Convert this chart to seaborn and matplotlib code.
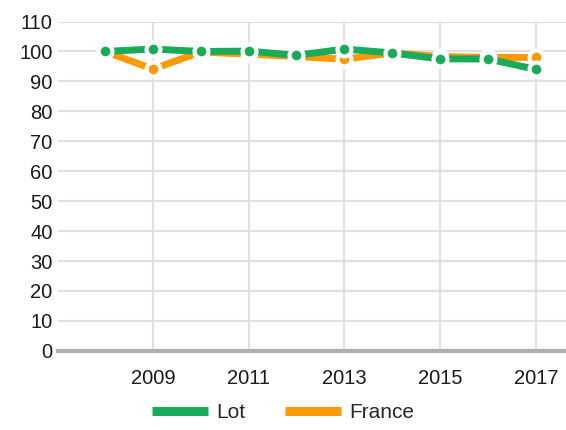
import numpy as np
import pandas as pd
import matplotlib.pyplot as plt
import seaborn as sns
from matplotlib.lines import Line2D

years = [2008, 2009, 2010, 2011, 2012, 2013, 2014, 2015, 2016, 2017]
lot = [100.0, 100.8, 100.0, 100.1, 98.7, 100.8, 99.5, 97.5, 97.5, 94.0]
france = [100.0, 94.1, 99.8, 99.1, 98.3, 97.4, 99.5, 98.3, 98.0, 98.0]

series_names = ["Lot", "France"]
colors = {"Lot": "#1aab5a", "France": "#ff9900"}

df = pd.DataFrame({
    "year": years * 2,
    "value": lot + france,
    "serie": ["Lot"] * len(years) + ["France"] * len(years),
})

sns.set_style("white")
plt.rcParams["font.family"] = ["Liberation Sans", "DejaVu Sans"]

fig = plt.figure(figsize=(5.66, 4.3), dpi=100)
ax = fig.add_axes([0.1025, 0.184, 0.8975, 0.766])

# France first so Lot sits on top
for name in ["France", "Lot"]:
    sns.lineplot(data=df[df.serie == name], x="year", y="value", color=colors[name],
                 linewidth=5, marker="o", markersize=10, markeredgecolor="white",
                 markeredgewidth=3, ax=ax, zorder=3, legend=False,
                 solid_capstyle="butt")

ax.set_xlim(2007.02, 2017.63)
ax.set_ylim(0, 110)
ax.set_yticks(np.arange(0, 111, 10))
ax.set_xticks([2009, 2011, 2013, 2015, 2017])
ax.grid(True, color="#e0e0e0", linewidth=1.5)
ax.set_axisbelow(True)
for s in ["top", "right", "left"]:
    ax.spines[s].set_visible(False)
ax.spines["bottom"].set_color("#b0b0b0")
ax.spines["bottom"].set_linewidth(3)
ax.set_xlabel("")
ax.set_ylabel("")
ax.tick_params(axis="both", length=0, labelsize=14.5, colors="#1a1a1a")
ax.tick_params(axis="x", pad=13)
ax.tick_params(axis="y", pad=4)

handles = [Line2D([0], [0], color=colors[n], linewidth=6.5, solid_capstyle="butt")
           for n in series_names]
fig.legend(handles, series_names, loc="center", bbox_to_anchor=(0.5, 1 - 413 / 430),
           ncol=2, frameon=False, fontsize=15, handlelength=2.7, columnspacing=1.9,
           handletextpad=0.4)

fig.savefig("out.png", dpi=100)
